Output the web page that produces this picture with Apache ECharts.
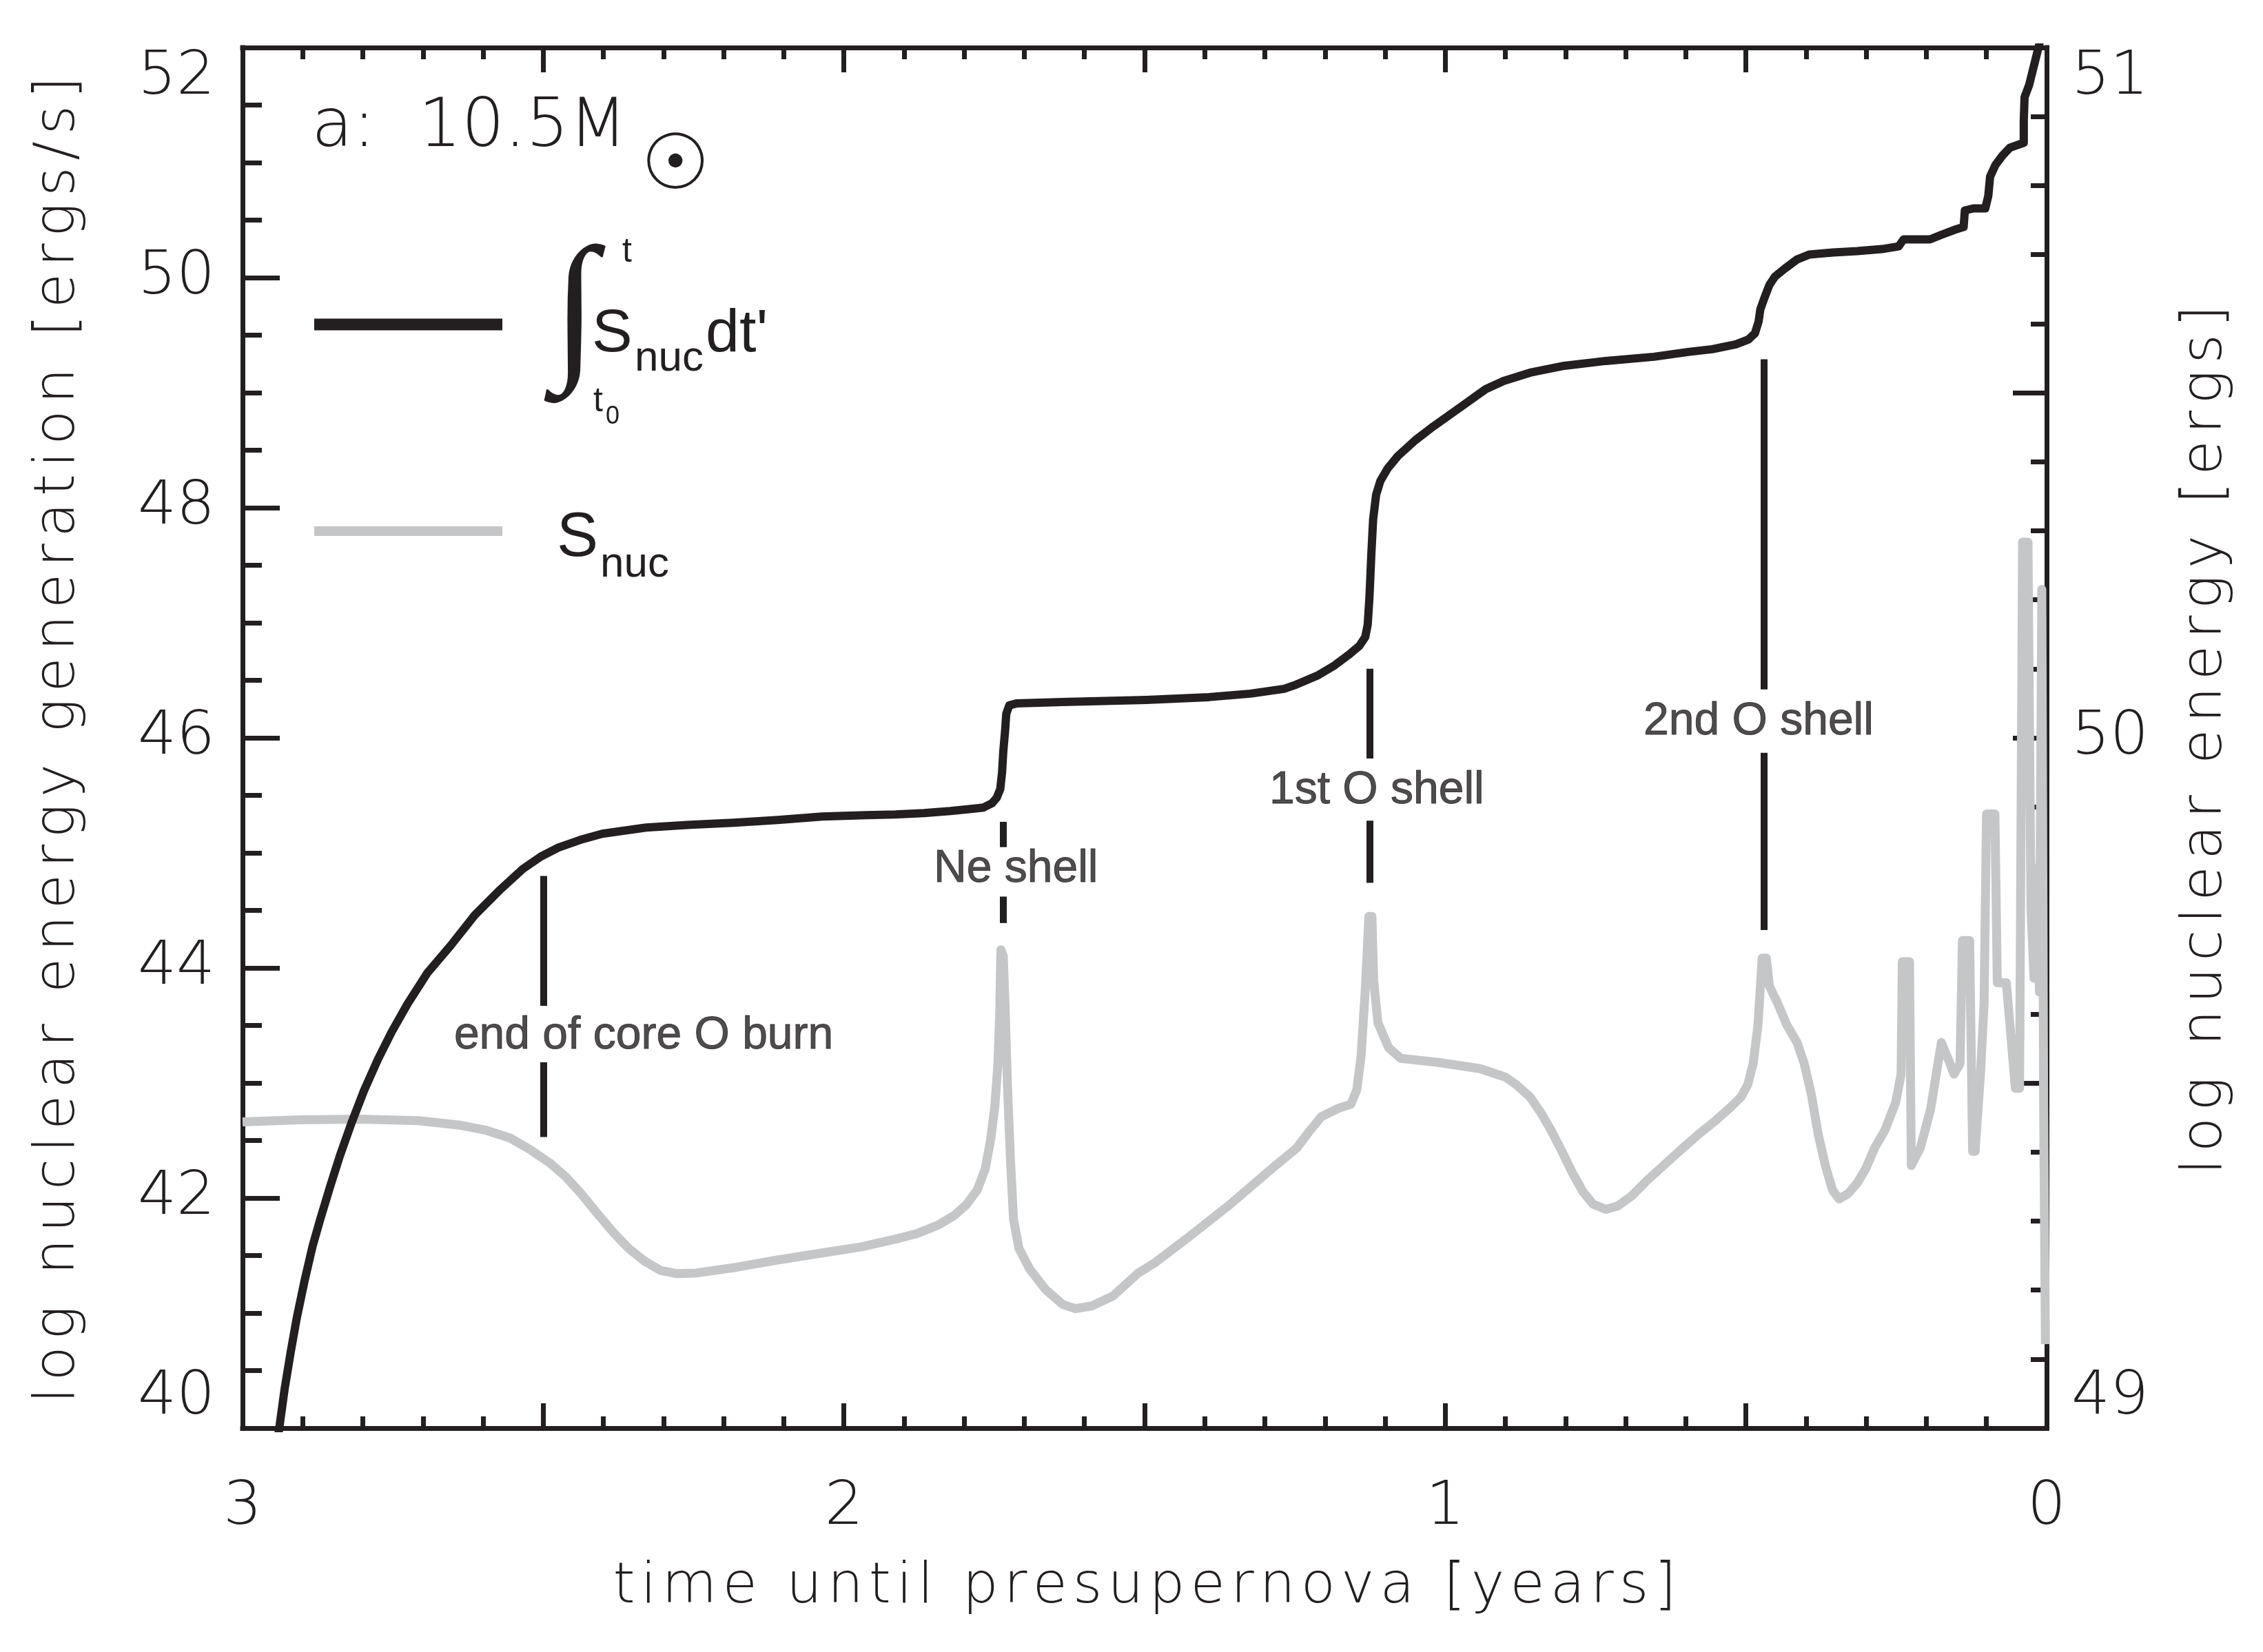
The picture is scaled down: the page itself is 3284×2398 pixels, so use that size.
<!DOCTYPE html>
<html>
<head>
<meta charset="utf-8">
<script src="https://cdn.jsdelivr.net/npm/echarts@6/dist/echarts.min.js"></script>
<style>
  html, body { margin: 0; padding: 0; background: #ffffff; }
  #chart { width: 3284px; height: 2398px; }
</style>
</head>
<body>
<div id="chart"></div>
<script>
// Cumulative nuclear energy: time until presupernova [years] vs log energy [ergs]
const integralT = [2.955, 2.9385, 2.930, 2.920, 2.910, 2.897, 2.884, 2.871, 2.854, 2.838,
  2.818, 2.798, 2.775, 2.752, 2.726, 2.693, 2.654, 2.614, 2.574, 2.534,
  2.504, 2.475, 2.439, 2.402, 2.329, 2.256, 2.183, 2.110, 2.036, 1.963,
  1.914, 1.867, 1.823, 1.789, 1.768, 1.754, 1.746, 1.740, 1.737, 1.735,
  1.732, 1.730, 1.725, 1.712, 1.636, 1.497, 1.393, 1.324, 1.268, 1.248,
  1.213, 1.184, 1.161, 1.143, 1.133, 1.129, 1.126, 1.123, 1.120, 1.115,
  1.108, 1.096, 1.079, 1.050, 1.020, 0.991, 0.962, 0.933, 0.903, 0.859,
  0.802, 0.733, 0.653, 0.596, 0.556, 0.517, 0.496, 0.485, 0.479, 0.476,
  0.469, 0.461, 0.452, 0.435, 0.415, 0.395, 0.355, 0.315, 0.274, 0.246,
  0.238, 0.194, 0.174, 0.153, 0.138, 0.136, 0.122, 0.102, 0.097, 0.094,
  0.085, 0.073, 0.061, 0.038, 0.038, 0.0367, 0.029, 0.017, 0.011, 0.008];
const integralLog = [48.90, 49.003, 49.057, 49.110, 49.159, 49.213, 49.262, 49.302, 49.351, 49.395,
  49.444, 49.489, 49.534, 49.574, 49.614, 49.659, 49.699, 49.743, 49.778, 49.810,
  49.828, 49.841, 49.852, 49.861, 49.870, 49.874, 49.877, 49.881, 49.886, 49.888,
  49.889, 49.891, 49.894, 49.897, 49.899, 49.905, 49.913, 49.926, 49.950, 49.980,
  50.010, 50.035, 50.047, 50.050, 50.052, 50.055, 50.059, 50.064, 50.071, 50.077,
  50.090, 50.105, 50.120, 50.133, 50.146, 50.164, 50.205, 50.265, 50.316, 50.352,
  50.372, 50.390, 50.408, 50.431, 50.451, 50.469, 50.487, 50.505, 50.517, 50.529,
  50.539, 50.546, 50.552, 50.559, 50.563, 50.570, 50.577, 50.586, 50.603, 50.621,
  50.638, 50.656, 50.668, 50.680, 50.693, 50.700, 50.703, 50.705, 50.708, 50.712,
  50.722, 50.722, 50.729, 50.736, 50.740, 50.764, 50.767, 50.767, 50.785, 50.813,
  50.830, 50.844, 50.855, 50.862, 50.894, 50.928, 50.946, 50.988, 51.009, 51.04];

// Nuclear energy generation rate: time [years] vs log S_nuc [ergs/s]
const snucT = [3.000, 2.904, 2.805, 2.707, 2.641, 2.594, 2.555, 2.523, 2.489, 2.463,
  2.437, 2.410, 2.384, 2.357, 2.331, 2.305, 2.279, 2.246, 2.180, 2.114,
  2.049, 1.971, 1.914, 1.879, 1.844, 1.817, 1.796, 1.778, 1.765, 1.756,
  1.749, 1.744, 1.741, 1.739, 1.735, 1.732, 1.728, 1.723, 1.718, 1.709,
  1.691, 1.664, 1.636, 1.615, 1.587, 1.553, 1.511, 1.483, 1.428, 1.358,
  1.289, 1.247, 1.226, 1.206, 1.178, 1.157, 1.147, 1.140, 1.133, 1.127,
  1.122, 1.119, 1.112, 1.094, 1.074, 1.011, 0.942, 0.900, 0.882, 0.859,
  0.841, 0.824, 0.806, 0.789, 0.771, 0.754, 0.733, 0.713, 0.689, 0.666,
  0.637, 0.608, 0.578, 0.549, 0.526, 0.508, 0.497, 0.488, 0.480, 0.476,
  0.473, 0.466, 0.461, 0.447, 0.432, 0.415, 0.403, 0.391, 0.380, 0.368,
  0.356, 0.345, 0.330, 0.315, 0.301, 0.286, 0.269, 0.251, 0.242, 0.240,
  0.228, 0.225, 0.210, 0.193, 0.175, 0.163, 0.154, 0.144, 0.140, 0.128,
  0.123, 0.119, 0.110, 0.104, 0.100, 0.086, 0.082, 0.067, 0.052, 0.045,
  0.040, 0.031, 0.026, 0.021, 0.016, 0.012, 0.008, 0.005, 0.002];
const snucLog = [42.661, 42.680, 42.685, 42.672, 42.635, 42.587, 42.521, 42.425, 42.305, 42.186,
  42.038, 41.865, 41.704, 41.557, 41.450, 41.370, 41.343, 41.348, 41.397, 41.458,
  41.512, 41.576, 41.643, 41.690, 41.763, 41.847, 41.944, 42.072, 42.253, 42.507,
  42.797, 43.160, 43.595, 44.157, 44.103, 43.668, 42.978, 42.326, 41.817, 41.563,
  41.382, 41.201, 41.074, 41.038, 41.063, 41.147, 41.346, 41.437, 41.655, 41.944,
  42.253, 42.434, 42.580, 42.707, 42.779, 42.815, 42.942, 43.232, 43.813, 44.448,
  44.448, 43.886, 43.523, 43.305, 43.214, 43.178, 43.124, 43.051, 42.985, 42.878,
  42.741, 42.588, 42.405, 42.222, 42.054, 41.946, 41.901, 41.931, 42.023, 42.145,
  42.283, 42.420, 42.557, 42.680, 42.786, 42.879, 42.985, 43.168, 43.504, 43.841,
  44.085, 44.085, 43.841, 43.689, 43.504, 43.351, 43.168, 42.893, 42.557, 42.283,
  42.068, 41.992, 42.038, 42.130, 42.252, 42.435, 42.588, 42.832, 43.077, 44.054,
  44.054, 42.283, 42.435, 42.771, 43.351, 43.199, 43.077, 43.168, 44.238, 44.238,
  42.405, 42.405, 43.077, 43.689, 45.338, 45.338, 43.871, 43.871, 42.954, 42.954,
  47.70, 47.70, 44.51, 43.91, 44.87, 43.79, 47.29, 42.84, 40.73];

// Burning-phase markers (time, bar spans above/below the label, label anchor)
const eventNames = ['end of core O burn', 'Ne shell', '1st O shell', '2nd O shell'];
const eventT = [2.50, 1.735, 1.126, 0.470];
const eventUpper = [[44.80, 43.67], [45.27, 45.05], [46.60, 45.82], [49.29, 46.42]];
const eventLower = [[43.18, 42.53], [44.62, 44.39], [45.28, 44.74], [45.87, 44.33]];
const eventLabelT = [2.333, 1.714, 1.114, 0.479];
const eventLabelLog = [43.41, 44.86, 45.54, 46.14];

// Tick labels
const xTickLabels = [0, 1, 2, 3];
const leftTickLabels = [40, 42, 44, 46, 48, 50, 52];
const rightTickLabels = [49, 50, 51];

const INK = '#231f20';
const GREY = '#c5c6c8';
const THIN = 'DejaVu Sans';
const HELV = 'Liberation Sans';

const zip = (a, b) => a.map((v, i) => [v, b[i]]);
const onlyListed = list => v => (list.some(x => Math.abs(x - v) < 1e-6) ? String(Math.round(v)) : '');
// wrap every character in its own rich token so the title gets open letter spacing
const spaced = s => s.split('').map(ch => '{c|' + ch + '}').join('');

const labelStyle = { color: INK, fontFamily: THIN, fontWeight: 200, fontSize: 88 };
const titleRich = gap => ({
  c: { padding: [0, gap, 0, gap], fontFamily: THIN, fontWeight: 200, fontSize: 82, color: INK }
});

function xAxisDef(pos) {
  return {
    type: 'value', position: pos, min: 0, max: 3, interval: 0.5, inverse: true,
    axisLine: { show: true, onZero: false, lineStyle: { color: INK, width: 7, cap: 'square' } },
    axisTick: { show: true, inside: true, length: 36, lineStyle: { color: INK, width: 7 } },
    minorTick: { show: true, splitNumber: 5, length: 17, lineStyle: { color: INK, width: 7 } },
    splitLine: { show: false }, minorSplitLine: { show: false },
    axisLabel: pos === 'bottom'
      ? Object.assign({ show: true, margin: 72, formatter: onlyListed(xTickLabels) }, labelStyle)
      : { show: false }
  };
}

function titleText(text, x, y, rotated, gap) {
  return {
    type: 'text', x: x, y: y, rotation: rotated ? Math.PI / 2 : 0, silent: true,
    style: { text: spaced(text), rich: titleRich(gap), fill: INK, fontFamily: THIN, fontWeight: 200,
      fontSize: 82, align: 'center', verticalAlign: 'middle' }
  };
}

function plainText(text, x, y, font, size, align, weight) {
  return {
    type: 'text', x: x, y: y, silent: true,
    style: { text: text, fill: INK, fontFamily: font, fontSize: size, fontWeight: weight || 'normal',
      align: align || 'left', verticalAlign: 'middle' }
  };
}

const chart = echarts.init(document.getElementById('chart'), null, { renderer: 'canvas' });

chart.setOption({
  animation: false,
  backgroundColor: '#ffffff',
  grid: { left: 352, right: 314, top: 69, bottom: 325, containLabel: false },
  xAxis: [xAxisDef('bottom'), xAxisDef('top')],
  yAxis: [
    {
      type: 'value', position: 'left', min: 40, max: 52, interval: 2,
      axisLine: { show: true, onZero: false, lineStyle: { color: INK, width: 7, cap: 'square' } },
      axisTick: { show: true, inside: true, length: 54, lineStyle: { color: INK, width: 7 } },
      minorTick: { show: true, splitNumber: 4, length: 28, lineStyle: { color: INK, width: 7 } },
      splitLine: { show: false }, minorSplitLine: { show: false },
      axisLabel: Object.assign({
        margin: 40, formatter: onlyListed(leftTickLabels),
        verticalAlignMaxLabel: 'top', verticalAlignMinLabel: 'bottom'
      }, labelStyle)
    },
    {
      type: 'value', position: 'right', min: 49, max: 51, interval: 0.5,
      axisLine: { show: true, onZero: false, lineStyle: { color: INK, width: 7, cap: 'square' } },
      axisTick: { show: true, inside: true, length: 49, lineStyle: { color: INK, width: 7 } },
      minorTick: { show: true, splitNumber: 5, length: 23, lineStyle: { color: INK, width: 7 } },
      splitLine: { show: false }, minorSplitLine: { show: false },
      axisLabel: Object.assign({
        margin: 36, formatter: onlyListed(rightTickLabels),
        verticalAlignMaxLabel: 'top', verticalAlignMinLabel: 'bottom'
      }, labelStyle)
    }
  ],
  series: [
    {
      name: 'S_nuc', type: 'line', xAxisIndex: 0, yAxisIndex: 0,
      data: zip(snucT, snucLog), showSymbol: false, symbol: 'none', clip: true,
      lineStyle: { color: GREY, width: 13, join: 'round', cap: 'butt' },
      z: 2, silent: true,
      markLine: {
        silent: true, symbol: ['none', 'none'], label: { show: false },
        lineStyle: { color: INK, width: 10, type: 'solid' },
        emphasis: { disabled: true },
        data: eventT.flatMap((t, i) => [
          [{ coord: [t, eventUpper[i][0]] }, { coord: [t, eventUpper[i][1]] }],
          [{ coord: [t, eventLower[i][0]] }, { coord: [t, eventLower[i][1]] }]
        ])
      }
    },
    {
      name: 'integral', type: 'line', xAxisIndex: 0, yAxisIndex: 1,
      data: zip(integralT, integralLog), showSymbol: false, symbol: 'none', clip: true,
      lineStyle: { color: INK, width: 12, join: 'round', cap: 'round' },
      z: 3, silent: true
    },
    {
      name: 'events', type: 'scatter', xAxisIndex: 0, yAxisIndex: 0,
      symbolSize: 0, silent: true, z: 4,
      data: eventNames.map((n, i) => ({ name: n, value: [eventLabelT[i], eventLabelLog[i]] })),
      label: {
        show: true, position: 'inside', formatter: '{b}',
        color: INK, fontFamily: HELV, fontSize: 66,
        textBorderColor: INK, textBorderWidth: 1
      }
    }
  ],
  graphic: [
    // axis titles
    titleText('log nuclear energy generation [ergs/s]', 86, 1074, true, 4.8),
    titleText('log nuclear energy [ergs]', 3202, 1074, true, 4.8),
    titleText('time until presupernova [years]', 1661, 2305, false, 4),
    // model label
    plainText('a:  10.5M', 452, 187, THIN, 98, 'left', 200),
    plainText('\u2609', 980, 245, THIN, 112, 'center', 200),
    // legend: cumulative energy
    { type: 'line', silent: true, shape: { x1: 456, y1: 471, x2: 729, y2: 471 },
      style: { stroke: INK, lineWidth: 17 } },
    plainText('\u222B', 834, 460, 'Liberation Serif', 236, 'center'),
    plainText('t', 910, 366, HELV, 50, 'center'),
    plainText('t', 868, 583, HELV, 50, 'center'),
    plainText('0', 889, 605, HELV, 36, 'center'),
    plainText('S', 859, 486, HELV, 88),
    plainText('nuc', 921, 521, HELV, 62),
    plainText("dt'", 1024, 486, HELV, 88),
    // legend: generation rate
    { type: 'line', silent: true, shape: { x1: 456, y1: 771, x2: 729, y2: 771 },
      style: { stroke: GREY, lineWidth: 14 } },
    plainText('S', 808, 782, HELV, 90),
    plainText('nuc', 871, 820, HELV, 62)
  ]
});
</script>
</body>
</html>
